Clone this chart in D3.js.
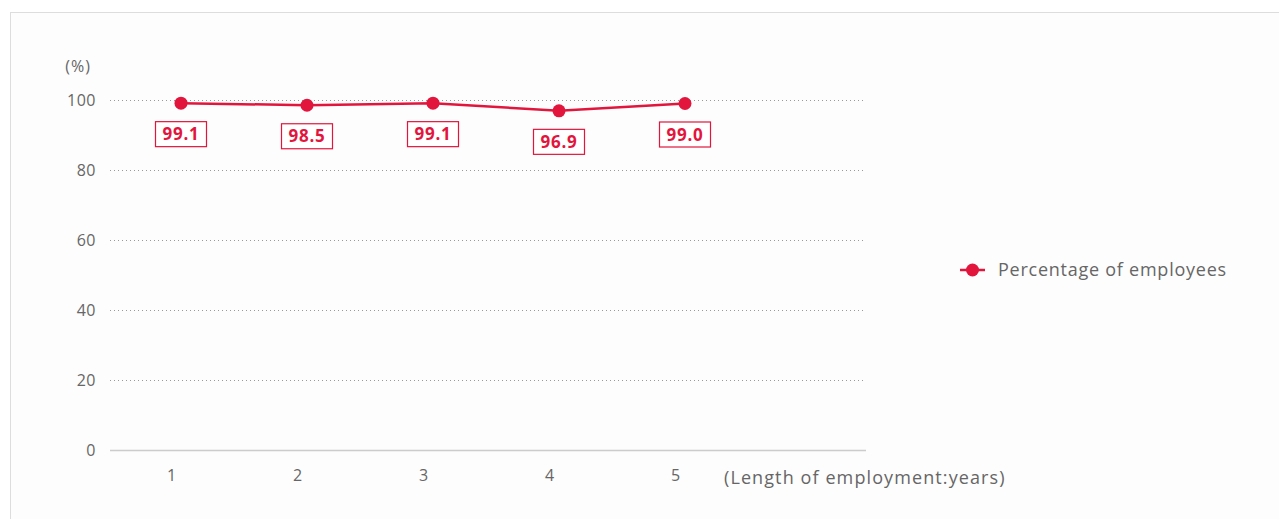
<!DOCTYPE html>
<html>
<head>
<meta charset="utf-8">
<script src="https://cdn.jsdelivr.net/npm/d3@7"></script>
<style>
  body { margin: 0; background: #fff; font-family: "Open Sans", "Noto Sans", sans-serif; }
  #chart { position: relative; width: 1279px; height: 519px; }
</style>
</head>
<body>
<div id="chart"></div>
<script>
const years = [1, 2, 3, 4, 5];
const percentages = [99.1, 98.5, 99.1, 96.9, 99.0];
const yTicks = [0, 20, 40, 60, 80, 100];
const seriesName = "Percentage of employees";
const xTitle = "(Length of employment:years)";
const yUnit = "(%)";

const red = "#e2163d";
const grey = "#666";

const svg = d3.select("#chart")
    .append("svg")
    .attr("width", 1279)
    .attr("height", 519);

// outer frame
svg.append("rect")
    .attr("x", 10.5).attr("y", 12.5)
    .attr("width", 1290).attr("height", 520)
    .attr("fill", "#fdfdfd")
    .attr("stroke", "#ddd");

const xScale = d3.scalePoint()
    .domain(years)
    .range([181, 685]);

const yScale = d3.scaleLinear()
    .domain([0, 100])
    .range([450, 100]);

// gridlines
svg.append("g")
    .selectAll("line")
    .data(yTicks.filter(d => d > 0))
    .enter()
    .append("line")
    .attr("x1", 110).attr("x2", 866)
    .attr("y1", d => yScale(d) + 0.5)
    .attr("y2", d => yScale(d) + 0.5)
    .attr("stroke", "#999")
    .attr("stroke-dasharray", "1,3");

// y axis
svg.append("g")
    .attr("transform", "translate(96,0)")
    .call(d3.axisLeft(yScale).tickValues(yTicks).tickSize(0).tickPadding(0))
    .call(g => g.select(".domain").remove())
    .call(g => g.selectAll("text")
        .attr("fill", grey)
        .style("font-family", "Open Sans, sans-serif")
        .style("font-size", "16px")
        .style("letter-spacing", "0.5px"));

svg.append("text")
    .attr("x", 91).attr("y", 72)
    .attr("text-anchor", "end")
    .attr("fill", grey)
    .style("font-size", "16px")
    .style("letter-spacing", "1px")
    .text(yUnit);

// baseline
svg.append("line")
    .attr("x1", 110).attr("x2", 866)
    .attr("y1", yScale(0) + 0.5).attr("y2", yScale(0) + 0.5)
    .attr("stroke", "#ccc")
    .attr("stroke-width", 1.5);

// x axis
svg.append("g")
    .attr("transform", `translate(-10,${yScale(0)})`)
    .call(d3.axisBottom(xScale).tickSize(0).tickPadding(20))
    .call(g => g.select(".domain").remove())
    .call(g => g.selectAll("text")
        .attr("fill", grey)
        .style("font-family", "Open Sans, sans-serif")
        .style("font-size", "16px"));

svg.append("text")
    .attr("x", 724).attr("y", 484)
    .attr("fill", grey)
    .style("font-size", "18px")
    .style("letter-spacing", "1.1px")
    .text(xTitle);

// line
const data = years.map((d, i) => ({ year: d, value: percentages[i] }));

svg.append("path")
    .datum(data)
    .attr("fill", "none")
    .attr("stroke", red)
    .attr("stroke-width", 2.5)
    .attr("d", d3.line().x(d => xScale(d.year)).y(d => yScale(d.value)));

svg.selectAll(".dot")
    .data(data)
    .enter()
    .append("circle")
    .attr("class", "dot")
    .attr("cx", d => xScale(d.year))
    .attr("cy", d => yScale(d.value))
    .attr("r", 6.5)
    .attr("fill", red);

// value labels in boxes
const labels = svg.selectAll(".val")
    .data(data)
    .enter()
    .append("g")
    .attr("class", "val")
    .attr("transform", d => `translate(${xScale(d.year)},${yScale(d.value) + 31})`);

labels.append("rect")
    .attr("x", -25.5).attr("y", -12.5)
    .attr("width", 51).attr("height", 25)
    .attr("fill", "#fff")
    .attr("stroke", red)
    .attr("stroke-width", 1.2);

labels.append("text")
    .attr("text-anchor", "middle")
    .attr("dy", "0.36em")
    .attr("fill", red)
    .style("font-size", "17px")
    .style("font-weight", "bold")
    .style("letter-spacing", "0.8px")
    .text(d => d.value.toFixed(1));

// legend
const legend = svg.append("g").attr("transform", "translate(960,270)");
legend.append("line")
    .attr("x1", 0).attr("x2", 25)
    .attr("stroke", red).attr("stroke-width", 2.5);
legend.append("circle")
    .attr("cx", 12.5).attr("r", 6.5)
    .attr("fill", red);
legend.append("text")
    .attr("x", 38).attr("dy", "0.36em")
    .attr("fill", grey)
    .style("font-size", "18px")
    .style("letter-spacing", "0.75px")
    .text(seriesName);
</script>
</body>
</html>
